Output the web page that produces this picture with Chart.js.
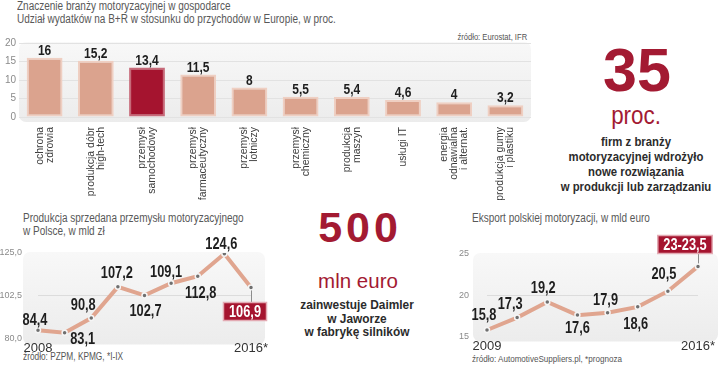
<!DOCTYPE html>
<html lang="pl">
<head>
<meta charset="utf-8">
<title>Znaczenie branży motoryzacyjnej w gospodarce</title>
<script src="https://cdn.jsdelivr.net/npm/chart.js@4.4.1/dist/chart.umd.min.js"></script>
<style>
  html, body { margin: 0; padding: 0; background: #fff; }
  #page { position: relative; width: 720px; height: 365px; overflow: hidden;
          font-family: 'Liberation Sans', Arial, sans-serif; color: #4a4a4a; }
  .t { position: absolute; white-space: nowrap; }
  .title { font-size: 12.5px; line-height: 13px; color: #585858; transform: scaleX(0.8); transform-origin: left top; }
  .src { font-size: 9.5px; line-height: 10px; color: #555; transform-origin: left top; }
  .note { font-size: 13.5px; font-weight: bold; color: #2b2b2b; text-align: center; transform-origin: center top; }
  .big { color: #a31a32; text-align: center; line-height: 1; }
  canvas { position: absolute; }
</style>
</head>
<body>
<div id="page">
  <div class="t title" style="left:17px; top:0px;">Znaczenie branży motoryzacyjnej w gospodarce<br>Udział wydatków na B+R w stosunku do przychodów w Europie, w proc.</div>
  <div class="t src" style="right:193px; top:32px; transform: scaleX(0.8); transform-origin: right top;">źródło: Eurostat, IFR</div>

  <div class="t big" style="left:577px; width:120px; top:35px; font: bold 61px 'Liberation Sans', sans-serif;">35</div>
  <div class="t big" style="left:586px; width:100px; top:102px; font-size:26px; transform: scaleX(0.86);">proc.</div>
  <div class="t note" style="left:536px; width:200px; top:134px; line-height:15px; transform: scaleX(0.84);">firm z branży<br>motoryzacyjnej wdrożyło<br>nowe rozwiązania<br>w produkcji lub zarządzaniu</div>

  <div class="t title" style="left:23px; top:212px;">Produkcja sprzedana przemysłu motoryzacyjnego<br>w Polsce, w mld zł</div>
  <div class="t src" style="left:23px; top:352px; font-size:10px; transform: scaleX(0.83);">źródło: PZPM, KPMG, *I-IX</div>

  <div class="t big" style="left:283px; width:150px; top:203px; font: bold 43px 'Liberation Sans', sans-serif; letter-spacing:4px; text-indent:4px;">500</div>
  <div class="t big" style="left:298px; width:120px; top:269px; font: 20.5px 'Liberation Sans', sans-serif;">mln euro</div>
  <div class="t note" style="left:257px; width:200px; top:298px; line-height:13.5px; transform: scaleX(0.88);">zainwestuje Daimler<br>w Jaworze<br>w fabrykę silników</div>

  <div class="t title" style="left:472px; top:212px;">Eksport polskiej motoryzacji, w mld euro</div>
  <div class="t src" style="left:472px; top:354px; transform: scaleX(0.85);">źródło: AutomotiveSuppliers.pl, *prognoza</div>

  <canvas id="barChart" width="535" height="175" style="left:0; top:30px;"></canvas>
  <canvas id="prodChart" width="285" height="135" style="left:0; top:225px;"></canvas>
  <canvas id="exportChart" width="280" height="135" style="left:440px; top:225px;"></canvas>
</div>

<script>
// R&D share, per cent //
const sectors = [
    ['ochrona', 'zdrowia'],
    ['produkcja dóbr', 'high-tech'],
    ['przemysł', 'samochodowy'],
    ['przemysł', 'farmaceutyczny'],
    ['przemysł', 'lotniczy'],
    ['przemysł', 'chemiczny'],
    ['produkcja', 'maszyn'],
    ['usługi IT'],
    ['energia', 'odnawialna', 'i alternat.'],
    ['produkcja gumy', 'i plastiku']
];
const rdShare = [16, 15.2, 13.4, 11.5, 8, 5.5, 5.4, 4.6, 4, 3.2];
const rdTicks = [0, 5, 10, 15, 20];
const highlightIndex = 2;

// sold production, bln zł //
const prodYears = ['2008', '2009', '2010', '2011', '2012', '2013', '2014', '2015', '2016*'];
const prodValues = [84.4, 83.1, 90.8, 107.2, 102.7, 109.1, 112.8, 124.6, 106.9];
const prodTicks = [80, 102.5, 125];

// export, bln euro //
const exportYears = ['2009', '2010', '2011', '2012', '2013', '2014', '2015', '2016*'];
const exportValues = [15.8, 17.3, 19.2, 17.6, 17.9, 18.6, 20.5, 23.5];
const exportLabels = ['15,8', '17,3', '19,2', '17,6', '17,9', '18,6', '20,5', '23-23,5'];
const exportTicks = [15, 20, 25];

const SANS = "'Liberation Sans', Arial, sans-serif";
const RED = '#a5142f';
const SALMON = '#dba38e';
const SQUEEZE = 0.8;   // fake a condensed face
const comma = v => String(v).replace('.', ',');

function squeezedText(ctx, text, x, y, sx) {
    ctx.save();
    ctx.translate(x, y);
    ctx.scale(sx, 1);
    ctx.fillText(text, 0, 0);
    ctx.restore();
}

// grey rounded panel behind the plot //
const panel = {
    id: 'panel',
    beforeDraw(chart, args, o) {
        const a = chart.chartArea, ctx = chart.ctx;
        const x = a.left - o.pad[0], y = a.top - o.pad[1];
        const w = a.right + o.pad[2] - x, h = a.bottom + o.pad[3] - y;
        const g = ctx.createLinearGradient(0, y, 0, y + h);
        g.addColorStop(0, '#f8f8f8');
        g.addColorStop(1, '#ececec');
        ctx.save();
        ctx.fillStyle = g;
        ctx.beginPath();
        ctx.roundRect(x, y, w, h, 7);
        ctx.fill();
        ctx.restore();
    }
};

// numbers next to bars / points, optional red box //
const valueLabels = {
    id: 'valueLabels',
    afterDatasetsDraw(chart, args, o) {
        const ctx = chart.ctx;
        const pts = chart.getDatasetMeta(0).data;
        ctx.save();
        ctx.font = 'bold ' + o.size + 'px ' + SANS;
        ctx.textAlign = 'center';
        ctx.textBaseline = 'middle';
        pts.forEach((p, i) => {
            const text = o.texts[i];
            const off = o.offsets[i];
            const x = p.x + off[0], y = p.y + off[1];
            if (i === o.boxIndex) {
                const w = ctx.measureText(text).width * SQUEEZE + 11, h = 18;
                ctx.strokeStyle = '#8c8c8c';
                ctx.lineWidth = 1;
                ctx.beginPath();
                ctx.moveTo(Math.round(p.x) + 0.5, p.y + (off[1] > 0 ? 3 : -3));
                ctx.lineTo(Math.round(p.x) + 0.5, off[1] > 0 ? y - h / 2 : y + h / 2);
                ctx.stroke();
                ctx.fillStyle = RED;
                ctx.strokeStyle = '#e3aab3';
                ctx.lineWidth = 1.5;
                ctx.beginPath();
                ctx.rect(x - w / 2, y - h / 2, w, h);
                ctx.fill();
                ctx.stroke();
                ctx.fillStyle = '#fff';
            } else {
                ctx.fillStyle = '#1e1e1e';
            }
            squeezedText(ctx, text, x, y + 1, SQUEEZE);
        });
        ctx.restore();
    }
};

// vertical, multi-line category names under the bars //
const sideLabels = {
    id: 'sideLabels',
    afterDraw(chart, args, o) {
        const xs = chart.scales.x, ctx = chart.ctx;
        ctx.save();
        ctx.font = o.size + 'px ' + SANS;
        ctx.fillStyle = '#3c3c3c';
        ctx.textAlign = 'right';
        ctx.textBaseline = 'middle';
        chart.data.labels.forEach((lab, i) => {
            const lines = [].concat(lab);
            const cx = xs.getPixelForTick(i);
            lines.forEach((line, k) => {
                ctx.save();
                ctx.translate(cx + (k - (lines.length - 1) / 2) * o.gap, xs.top + o.pad);
                ctx.rotate(-Math.PI / 2);
                ctx.scale(o.squeeze, 1);
                ctx.fillText(line, 0, 0);
                ctx.restore();
            });
        });
        ctx.restore();
    }
};

// Bar Chart //
new Chart(document.getElementById('barChart'), {
    type: 'bar',
    data: {
        labels: sectors,
        datasets: [{
            data: rdShare,
            backgroundColor: rdShare.map((v, i) => i === highlightIndex ? RED : SALMON),
            borderColor: rdShare.map((v, i) => i === highlightIndex ? '#c76a79' : '#efcfc2'),
            borderWidth: 2,
            borderSkipped: false,
            barPercentage: 0.7,
            categoryPercentage: 1
        }]
    },
    options: {
        responsive: false,
        animation: false,
        layout: { padding: { top: 13, right: 4, left: 0, bottom: 0 } },
        plugins: {
            legend: { display: false },
            tooltip: { enabled: false },
            panel: { pad: [0, 1, 0, 5] },
            valueLabels: {
                size: 15,
                texts: rdShare.map(comma),
                offsets: rdShare.map(() => [0, -8])
            },
            sideLabels: { size: 11, gap: 10, pad: 10, squeeze: 0.95 }
        },
        scales: {
            x: {
                grid: { display: false, drawTicks: false },
                border: { display: false },
                ticks: { display: false },
                afterFit: s => { s.height = 88; }
            },
            y: {
                min: 0,
                max: 20,
                afterBuildTicks: s => { s.ticks = rdTicks.map(v => ({ value: v })); },
                ticks: { padding: 3, color: '#8a8a8a', font: { family: SANS, size: 10 } },
                grid: { color: '#e2e2e2', drawTicks: false },
                border: { display: false },
                afterFit: s => { s.width = 19; }
            }
        }
    },
    plugins: [panel, valueLabels, sideLabels]
});

// shared look of the two line charts //
function lineOptions(years, ticks, fmt, pad, yWidth, yPad, labelOpts, panelPad) {
    return {
        responsive: false,
        animation: false,
        layout: { padding: pad },
        plugins: {
            legend: { display: false },
            tooltip: { enabled: false },
            panel: { pad: panelPad },
            valueLabels: labelOpts
        },
        scales: {
            x: {
                grid: { display: false, drawTicks: false },
                border: { display: false },
                ticks: {
                    autoSkip: false,
                    maxRotation: 0,
                    padding: 2,
                    color: '#333',
                    font: { family: SANS, size: 13 },
                    callback: (v, i) => (i === 0 || i === years.length - 1) ? years[i] : ''
                },
                afterFit: s => { s.height = 20; }
            },
            y: {
                min: ticks[0],
                max: ticks[ticks.length - 1],
                afterBuildTicks: s => { s.ticks = ticks.map(v => ({ value: v })); },
                ticks: { padding: yPad, color: '#8a8a8a', font: { family: SANS, size: 9 }, callback: fmt },
                grid: { color: c => c.index === 1 ? '#dcdcdc' : 'rgba(0,0,0,0)', drawTicks: false },
                border: { display: false },
                afterFit: s => { s.width = yWidth; }
            }
        }
    };
}

const lineStyle = {
    borderColor: '#e0a58f',
    borderWidth: 4,
    tension: 0,
    pointRadius: 2.5,
    pointBackgroundColor: '#6f6f6f',
    pointBorderColor: '#f5f5f5',
    pointBorderWidth: 1.5
};

// Line Chart - production //
new Chart(document.getElementById('prodChart'), {
    type: 'line',
    data: {
        labels: prodYears,
        datasets: [Object.assign({ data: prodValues }, lineStyle)]
    },
    options: lineOptions(
        prodYears, prodTicks, v => v.toFixed(1).replace('.', ','),
        { top: 28, right: 34, left: 0, bottom: 0 }, 38, 16,
        {
            size: 16,
            texts: prodValues.map(comma),
            offsets: [[-3, -11], [18, 6], [-8, -13], [-1, -14], [1, 15], [-5, -12], [3, 16], [-3, -10], [-6, 24]],
            boxIndex: 8
        },
        [15, 1, 14, 6]
    ),
    plugins: [panel, valueLabels]
});

// Line Chart - export //
new Chart(document.getElementById('exportChart'), {
    type: 'line',
    data: {
        labels: exportYears,
        datasets: [Object.assign({ data: exportValues }, lineStyle)]
    },
    options: lineOptions(
        exportYears, exportTicks, v => String(v),
        { top: 29, right: 22, left: 0, bottom: 0 }, 47, 18,
        {
            size: 16,
            texts: exportLabels,
            offsets: [[-3, -15], [-7, -14], [-4, -14], [0, 12], [-2, -13], [-2, 17], [-4, -18], [-13, -22]],
            boxIndex: 7
        },
        [14, 1, 20, 5]
    ),
    plugins: [panel, valueLabels]
});
</script>
</body>
</html>
